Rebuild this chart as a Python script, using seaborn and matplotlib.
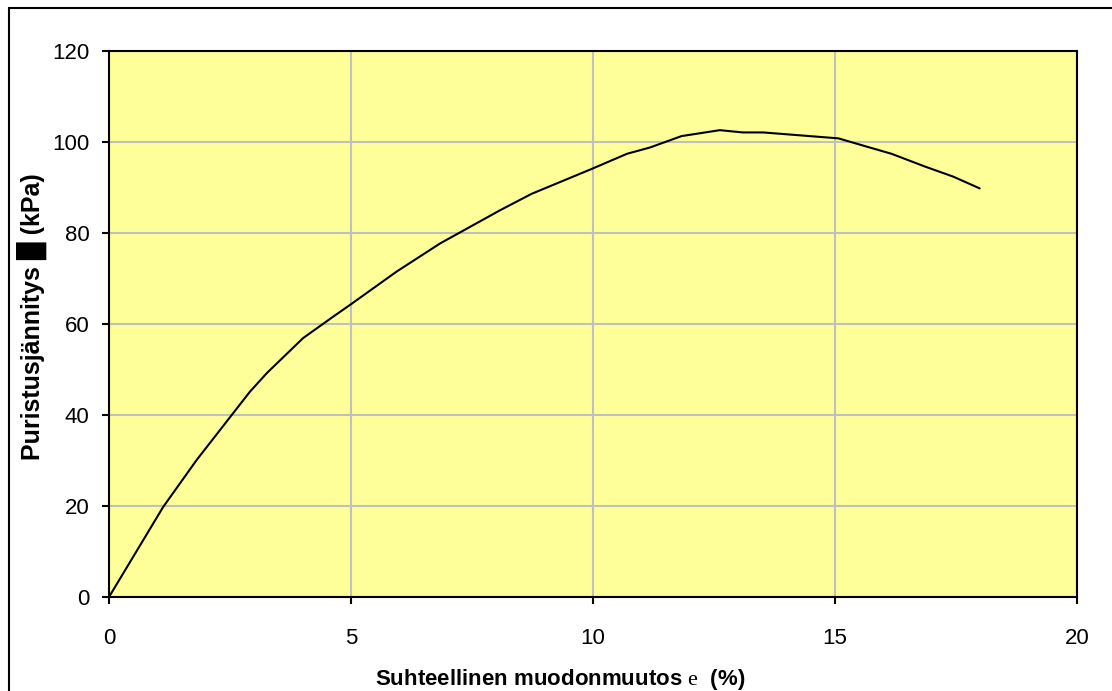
import matplotlib
matplotlib.use("Agg")
import matplotlib.pyplot as plt
import seaborn as sns
import pandas as pd
from matplotlib.patches import Rectangle

# Strain (%) and compressive stress (kPa)
strain = [0.0, 1.12, 1.81, 2.91, 3.26, 4.01, 4.63, 4.98, 5.94, 6.84,
          8.08, 8.73, 10.0, 10.70, 11.18, 11.83, 12.62, 13.1, 13.52, 15.07,
          15.65, 16.17, 16.86, 17.44, 17.99]
stress = [0.0, 19.8, 30.1, 45.1, 49.2, 56.9, 61.6, 64.2, 71.5, 77.7,
          85.0, 88.6, 94.2, 97.4, 98.8, 101.3, 102.6, 102.1, 102.1, 100.8,
          99.0, 97.4, 94.6, 92.4, 89.8]
x_ticks = [0, 5, 10, 15, 20]
y_ticks = [0, 20, 40, 60, 80, 100, 120]

df = pd.DataFrame({"strain": strain, "stress": stress})

sns.set_style("ticks", {"axes.facecolor": "#FFFF99", "axes.edgecolor": "black",
                        "grid.color": "#C0C0C0", "axes.grid": True,
                        "text.color": "black", "axes.labelcolor": "black",
                        "xtick.color": "black", "ytick.color": "black"})
plt.rcParams['font.family'] = ['Liberation Sans', 'DejaVu Sans']
plt.rcParams['mathtext.fontset'] = 'custom'
plt.rcParams['mathtext.rm'] = 'Liberation Serif'

fig = plt.figure(figsize=(11.12, 6.91), dpi=100)
ax = fig.add_axes([109 / 1112, 94 / 691, 968 / 1112, 546 / 691])

sns.lineplot(data=df, x="strain", y="stress", ax=ax, color="black",
             linewidth=1.5, sort=False)

ax.set_xlim(0, 20)
ax.set_ylim(0, 120)
ax.set_xticks(x_ticks)
ax.set_yticks(y_ticks)
ax.grid(True, color="#C0C0C0", linewidth=1.5)
ax.tick_params(axis="both", labelsize=16, length=5, width=1.5, direction="out",
               colors="black")
ax.tick_params(axis="x", pad=17)
ax.tick_params(axis="y", pad=9)
for sp in ax.spines.values():
    sp.set_linewidth(1.5)

ax.set_xlabel("Suhteellinen muodonmuutos $\\mathrm{e}$  (%)", fontsize=16,
              fontweight="bold", color="black")
ax.set_ylabel("Puristusjännitys \u2588 (kPa)", fontsize=18, fontweight="bold",
              color="black")
ax.xaxis.set_label_coords(0.466, -0.129)
ax.yaxis.set_label_coords(-0.064, 0.514)

# outer chart border
fig.patches.append(Rectangle((9 / 1112, -0.05), 1.2, 1.05 - 8 / 691,
                             transform=fig.transFigure, fill=False,
                             edgecolor="black", linewidth=1.5))

fig.savefig("out.png", dpi=100)
